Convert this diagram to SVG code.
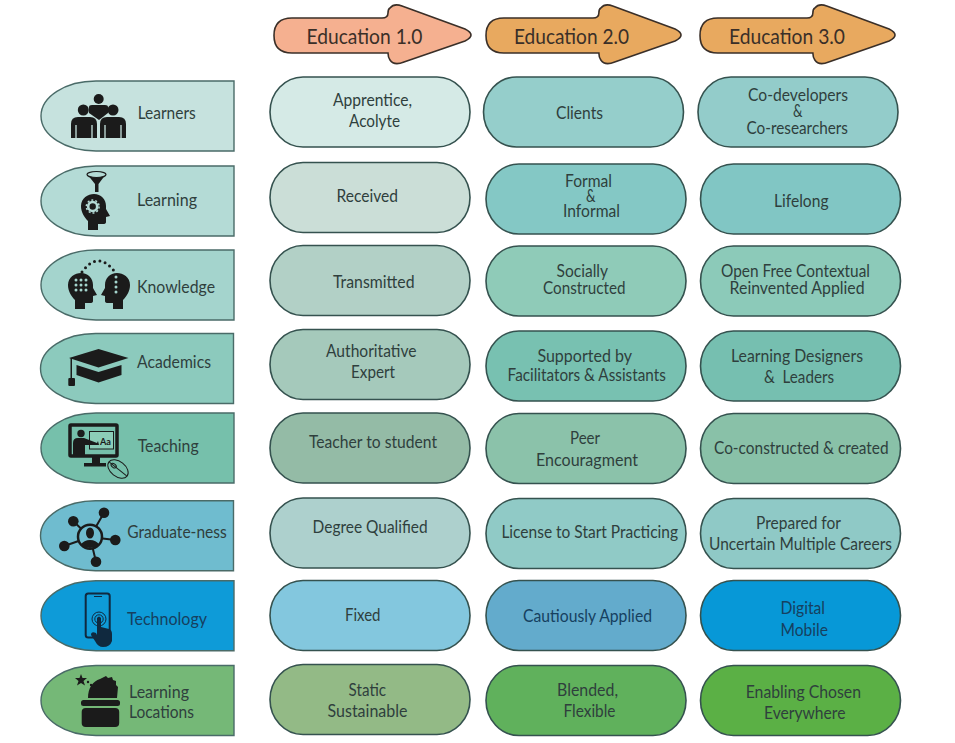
<svg xmlns="http://www.w3.org/2000/svg" width="955" height="743" viewBox="0 0 955 743">
<style>
text{font-family:"Lato","Open Sans","Liberation Sans",sans-serif;font-size:16.5px;fill:#2f3f3d}
.h{font-size:21px;fill:#3a2f28}
.c{stroke:#35524f;stroke-width:1.6}
.t{stroke:#4a6b68;stroke-width:1.4}
.a{stroke:#3a2f28;stroke-width:1.6}
.b{fill:#1b1b1b}
.bl{fill:#16405f}
</style>
<defs>
<path id="arrow" d="M18 18H108Q114 18 114 13Q114 9 116 8Q120 3 128 6L191 29Q197 32 197 35Q197 38 191 41L130 62Q120 66 116 60Q114 57 114 53H18Q0 53 0 35.500Q0 18 18 18Z"/>
<path id="head" d="M-6 18V9C-10 5-13 0-13-6C-13-14-6-18 0-18C7-18 12-13 12-6L12-3L16 4L12 5V10Q12 12 9 12H4V18Z"/>
<path id="tabshape" d="M193 0H55C24 0 0 16 0 35C0 54 24 70 55 70H193Z"/>
</defs>
<rect width="955" height="743" fill="#fff"/>

<g id="header-1"><use href="#arrow" x="274" y="0" fill="#f5b090" class="a"/><text class="h" x="306.500" y="44" textLength="116" lengthAdjust="spacingAndGlyphs">Education 1.0</text></g>
<g id="header-2"><use href="#arrow" transform="translate(486 0) scale(.99 1)" fill="#e8a95f" class="a"/><text class="h" x="514" y="44" textLength="115" lengthAdjust="spacingAndGlyphs">Education 2.0</text></g>
<g id="header-3"><use href="#arrow" transform="translate(700 0) scale(.99 1)" fill="#e8a95f" class="a"/><text class="h" x="729" y="44" textLength="116" lengthAdjust="spacingAndGlyphs">Education 3.0</text></g>

<g id="tab-learners"><use href="#tabshape" x="41" y="81" fill="#c6e2de" class="t"/>
<g class="b"><circle cx="98.700" cy="99" r="5"/><circle cx="83.300" cy="110" r="5.500"/><circle cx="113" cy="110" r="5.500"/>
<path d="M89 107Q89 105 92 105H105Q108 105 108 107V113L99 120L89 113Z"/>
<path d="M71 138V124Q71 117 78 117H90Q97 117 97 124V138ZM100 138V124Q100 117 107 117H119Q126 117 126 124V138Z"/></g>
<path d="M76 125V138M92 125V138M105 125V138M121 125V138" stroke="#c6e2de" stroke-width="1.300" fill="none"/>
<text x="137.700" y="119" textLength="58" lengthAdjust="spacingAndGlyphs">Learners</text></g>

<g id="tab-learning"><use href="#tabshape" x="41" y="166" fill="#b4dbd6" class="t"/>
<g class="b"><path d="M87 174Q96 178 106 174L98.500 184V192H95V184Z"/><use href="#head" x="94" y="212"/></g>
<ellipse cx="96.500" cy="174.500" rx="9.500" ry="3" fill="#b4dbd6" stroke="#1b1b1b" stroke-width="1.200"/>
<circle cx="92.700" cy="206.500" r="4.500" fill="none" stroke="#b4dbd6" stroke-width="2.600"/>
<circle cx="92.700" cy="206.500" r="6.400" fill="none" stroke="#b4dbd6" stroke-width="1.500" stroke-dasharray="2 2"/>
<text x="137" y="205.700" textLength="60" lengthAdjust="spacingAndGlyphs">Learning</text></g>

<g id="tab-knowledge"><use href="#tabshape" x="41" y="250" fill="#a4d4cd" class="t"/>
<path d="M82 272Q98 250 115 272" fill="none" stroke="#1b1b1b" stroke-width="3" stroke-linecap="round" stroke-dasharray="0 5.500"/>
<use href="#head" x="81" y="291" class="b"/><use href="#head" transform="translate(117 291) scale(-1 1)" class="b"/>
<g fill="#a4d4cd"><circle cx="76" cy="280" r="1.500"/><circle cx="81" cy="280" r="1.500"/><circle cx="86" cy="280" r="1.500"/><circle cx="76" cy="285" r="1.500"/><circle cx="81" cy="285" r="1.500"/><circle cx="86" cy="285" r="1.500"/><circle cx="76" cy="290" r="1.500"/><circle cx="81" cy="290" r="1.500"/><circle cx="86" cy="290" r="1.500"/><circle cx="116" cy="277" r="1.500"/><circle cx="116" cy="282" r="1.500"/><circle cx="116" cy="287" r="1.500"/><circle cx="116" cy="292" r="1.500"/></g>
<text x="137" y="292.700" textLength="78" lengthAdjust="spacingAndGlyphs">Knowledge</text></g>

<g id="tab-academics"><use href="#tabshape" x="40.500" y="333.500" fill="#8ccabd" class="t"/>
<g class="b"><path d="M69 358L98.500 349L128.500 358L98.500 367.500Z"/><path d="M76.500 365L98.500 372L121.500 365V375L98.500 382.500L76.500 375Z"/><rect x="68.300" y="378" width="6.700" height="8" rx="1"/><path d="M70.500 358H72V378H70.500Z"/></g>
<text x="137" y="368" textLength="74" lengthAdjust="spacingAndGlyphs">Academics</text></g>

<g id="tab-teaching"><use href="#tabshape" x="41" y="413" fill="#76c0ab" class="t"/>
<rect x="70" y="425" width="47" height="31" fill="#76c0ab" stroke="#1b1b1b" stroke-width="3.500" rx="1"/>
<rect x="89.500" y="431.500" width="24" height="17.500" fill="#8ccdb8" stroke="#1b1b1b" stroke-width="1"/>
<g class="b"><circle cx="81" cy="433.500" r="3.700"/><path d="M73 455V443Q73 438 78 438H84L97 443L98 441L99 445L85 445V455Z"/><rect x="92" y="457" width="8" height="6"/><rect x="84" y="463" width="22" height="3.500"/></g>
<text x="100" y="445" style="font-size:9px;font-weight:700;fill:#1b1b1b" textLength="11" lengthAdjust="spacingAndGlyphs">Aa</text>
<g transform="rotate(38 118 469)" fill="none" stroke="#1b1b1b" stroke-width="1"><ellipse cx="118" cy="469" rx="11.500" ry="7.500"/><ellipse cx="112.500" cy="469" rx="3" ry="1.800"/><path d="M107 469H129"/></g>
<text x="137.700" y="452.300" textLength="61" lengthAdjust="spacingAndGlyphs">Teaching</text></g>

<g id="tab-graduateness"><use href="#tabshape" x="40.500" y="500.700" fill="#6fbccf" class="t"/>
<path d="M90 537L73.300 521.300M90 537L104 512.700M90 537L115.300 540M90 537L96 561.700M90 537L64.300 546" stroke="#1b1b1b" stroke-width="2"/>
<g class="b"><circle cx="73.300" cy="521.300" r="5.300"/><circle cx="104" cy="512.700" r="5.300"/><circle cx="115.300" cy="540" r="5.300"/><circle cx="96" cy="561.700" r="5.300"/><circle cx="64.300" cy="546" r="5.300"/></g>
<circle cx="90" cy="536.700" r="12" fill="#6fbccf" stroke="#1b1b1b" stroke-width="2.500"/>
<ellipse cx="90" cy="533" rx="4" ry="5.500" class="b"/><path d="M80.500 545Q84 540 90 540Q96 540 99.500 545Q90 551 80.500 545Z" class="b"/>
<text x="127.300" y="538" textLength="99.500" lengthAdjust="spacingAndGlyphs">Graduate-ness</text></g>

<g id="tab-technology"><use href="#tabshape" x="41" y="580.700" fill="#0e9bd8" class="t"/>
<rect x="85.700" y="593.500" width="24" height="44" rx="2.500" fill="#0e9bd8" stroke="#10293f" stroke-width="2"/>
<path d="M94 596.500H102" stroke="#10293f" stroke-width="1"/>
<g fill="none" stroke="#10293f" stroke-width="1"><circle cx="99" cy="619" r="7"/><circle cx="99" cy="619" r="4.200"/></g>
<path d="M97 618Q99 615 101 618V627L109 629Q112 630 112 634V641Q110 647 103 647Q98 647 95 641L91 635Q91 631 96 633L97 635Z" fill="#10293f"/>
<text class="bl" x="127" y="625" textLength="80" lengthAdjust="spacingAndGlyphs">Technology</text></g>

<g id="tab-locations"><use href="#tabshape" x="41" y="665.500" fill="#75b877" class="t"/>
<g class="b"><path d="M81 674L82.500 678L87 678L83.500 681L85 685.500L81 683L77 685.500L78.500 681L75 678L79.500 678Z"/><path d="M88 698C88 688 93 681 100 679L106 676L108 678L112 677L113 680L116 681L116 685L118 687L117 698Z"/><rect x="81" y="700" width="39" height="6" rx="2.500"/><rect x="81.700" y="708" width="37.500" height="19" rx="4"/><circle cx="88" cy="682" r="1.200"/><circle cx="91" cy="685" r="1.200"/></g>
<text x="129" y="698" textLength="60" lengthAdjust="spacingAndGlyphs">Learning</text><text x="129" y="717.700" textLength="65" lengthAdjust="spacingAndGlyphs">Locations</text></g>

<g id="cell-r1c1"><rect class="c" x="270" y="77" width="200" height="70" rx="33" ry="35" fill="#d5eae6"/><text x="333" y="106" textLength="79" lengthAdjust="spacingAndGlyphs">Apprentice,</text><text x="349" y="127" textLength="51" lengthAdjust="spacingAndGlyphs">Acolyte</text></g>
<g id="cell-r1c2"><rect class="c" x="483.500" y="77" width="200" height="70" rx="33" ry="35" fill="#95cecb"/><text x="556" y="119" textLength="47" lengthAdjust="spacingAndGlyphs">Clients</text></g>
<g id="cell-r1c3"><rect class="c" x="698" y="77" width="200" height="70" rx="33" ry="35" fill="#93ccca"/><text x="748" y="100.700" textLength="100" lengthAdjust="spacingAndGlyphs">Co-developers</text><text x="793" y="117" textLength="9.500" lengthAdjust="spacingAndGlyphs">&amp;</text><text x="746.500" y="134" textLength="101.500" lengthAdjust="spacingAndGlyphs">Co-researchers</text></g>

<g id="cell-r2c1"><rect class="c" x="270" y="162.500" width="200" height="70" rx="33" ry="35" fill="#cbded7"/><text x="336.500" y="201.700" textLength="61.500" lengthAdjust="spacingAndGlyphs">Received</text></g>
<g id="cell-r2c2"><rect class="c" x="486" y="164" width="200" height="70" rx="33" ry="35" fill="#84c8c5"/><text x="565" y="187" textLength="47" lengthAdjust="spacingAndGlyphs">Formal</text><text x="586" y="201.700" textLength="9.500" lengthAdjust="spacingAndGlyphs">&amp;</text><text x="563" y="217" textLength="57" lengthAdjust="spacingAndGlyphs">Informal</text></g>
<g id="cell-r2c3"><rect class="c" x="700.500" y="164" width="200" height="70" rx="33" ry="35" fill="#81c6c4"/><text x="774" y="206.700" textLength="54.500" lengthAdjust="spacingAndGlyphs">Lifelong</text></g>

<g id="cell-r3c1"><rect class="c" x="270" y="245.500" width="200" height="70" rx="33" ry="35" fill="#b2d0c6"/><text x="333" y="288" textLength="81.500" lengthAdjust="spacingAndGlyphs">Transmitted</text></g>
<g id="cell-r3c2"><rect class="c" x="486" y="246" width="200" height="70" rx="33" ry="35" fill="#8fcbb8"/><text x="556.500" y="277" textLength="51.500" lengthAdjust="spacingAndGlyphs">Socially</text><text x="543" y="294" textLength="82.500" lengthAdjust="spacingAndGlyphs">Constructed</text></g>
<g id="cell-r3c3"><rect class="c" x="700.500" y="246" width="200" height="70" rx="33" ry="35" fill="#8ccab9"/><text x="721" y="277" textLength="149" lengthAdjust="spacingAndGlyphs">Open Free Contextual</text><text x="729.600" y="294" textLength="135" lengthAdjust="spacingAndGlyphs">Reinvented Applied</text></g>

<g id="cell-r4c1"><rect class="c" x="270" y="329.500" width="200" height="70" rx="33" ry="35" fill="#a5c9bb"/><text x="326" y="356.700" textLength="90.500" lengthAdjust="spacingAndGlyphs">Authoritative</text><text x="351" y="377.700" textLength="44" lengthAdjust="spacingAndGlyphs">Expert</text></g>
<g id="cell-r4c2"><rect class="c" x="486" y="331" width="200" height="70" rx="33" ry="35" fill="#78c1b1"/><text x="537.400" y="361.700" textLength="94.600" lengthAdjust="spacingAndGlyphs">Supported by</text><text x="507.600" y="381" textLength="158.200" lengthAdjust="spacingAndGlyphs">Facilitators &amp; Assistants</text></g>
<g id="cell-r4c3"><rect class="c" x="700.500" y="331" width="200" height="70" rx="33" ry="35" fill="#76bfb0"/><text x="731" y="361.700" textLength="132" lengthAdjust="spacingAndGlyphs">Learning Designers</text><text x="764" y="383" textLength="70" lengthAdjust="spacingAndGlyphs" xml:space="preserve">&amp;  Leaders</text></g>

<g id="cell-r5c1"><rect class="c" x="270" y="413" width="200" height="70" rx="33" ry="35" fill="#94bba6"/><text x="309" y="448" textLength="128" lengthAdjust="spacingAndGlyphs">Teacher to student</text></g>
<g id="cell-r5c2"><rect class="c" x="486" y="413.500" width="200" height="70" rx="33" ry="35" fill="#8bc2aa"/><text x="570" y="444" textLength="30" lengthAdjust="spacingAndGlyphs">Peer</text><text x="536" y="466" textLength="102" lengthAdjust="spacingAndGlyphs">Encouragment</text></g>
<g id="cell-r5c3"><rect class="c" x="700.500" y="413.500" width="200" height="70" rx="33" ry="35" fill="#89c1a8"/><text x="714" y="454" textLength="174.600" lengthAdjust="spacingAndGlyphs">Co-constructed &amp; created</text></g>

<g id="cell-r6c1"><rect class="c" x="270" y="498" width="200" height="70" rx="33" ry="35" fill="#add0cd"/><text x="312.600" y="533" textLength="115" lengthAdjust="spacingAndGlyphs">Degree Qualified</text></g>
<g id="cell-r6c2"><rect class="c" x="486" y="498.500" width="200" height="70" rx="33" ry="35" fill="#90cac6"/><text x="501.400" y="538" textLength="176.600" lengthAdjust="spacingAndGlyphs">License to Start Practicing</text></g>
<g id="cell-r6c3"><rect class="c" x="700.500" y="498.500" width="200" height="70" rx="33" ry="35" fill="#8fc9c6"/><text x="756" y="529" textLength="85" lengthAdjust="spacingAndGlyphs">Prepared for</text><text x="709" y="550" textLength="183" lengthAdjust="spacingAndGlyphs">Uncertain Multiple Careers</text></g>

<g id="cell-r7c1"><rect class="c" x="270" y="580.500" width="200" height="70" rx="33" ry="35" fill="#83c7de"/><text x="345" y="621" textLength="35.500" lengthAdjust="spacingAndGlyphs">Fixed</text></g>
<g id="cell-r7c2"><rect class="c" x="486" y="580.500" width="200" height="70" rx="33" ry="35" fill="#63abcc"/><text class="bl" x="523" y="621.700" textLength="129" lengthAdjust="spacingAndGlyphs">Cautiously Applied</text></g>
<g id="cell-r7c3"><rect class="c" x="700.500" y="580.500" width="200" height="70" rx="33" ry="35" fill="#0798d7"/><text class="bl" x="780.500" y="614" textLength="44.500" lengthAdjust="spacingAndGlyphs">Digital</text><text class="bl" x="780.500" y="635.700" textLength="47.500" lengthAdjust="spacingAndGlyphs">Mobile</text></g>

<g id="cell-r8c1"><rect class="c" x="270" y="664.500" width="200" height="70" rx="33" ry="35" fill="#93ba86"/><text x="348.600" y="695.700" textLength="37.400" lengthAdjust="spacingAndGlyphs">Static</text><text x="327.500" y="716.700" textLength="80" lengthAdjust="spacingAndGlyphs">Sustainable</text></g>
<g id="cell-r8c2"><rect class="c" x="486" y="665.500" width="200" height="70" rx="33" ry="35" fill="#60b15c"/><text x="557" y="695.700" textLength="61" lengthAdjust="spacingAndGlyphs">Blended,</text><text x="563.500" y="716.700" textLength="52" lengthAdjust="spacingAndGlyphs">Flexible</text></g>
<g id="cell-r8c3"><rect class="c" x="700.500" y="665.500" width="200" height="70" rx="33" ry="35" fill="#5bb045"/><text x="745.700" y="698" textLength="115.300" lengthAdjust="spacingAndGlyphs">Enabling Chosen</text><text x="764" y="719" textLength="81.500" lengthAdjust="spacingAndGlyphs">Everywhere</text></g>
</svg>
